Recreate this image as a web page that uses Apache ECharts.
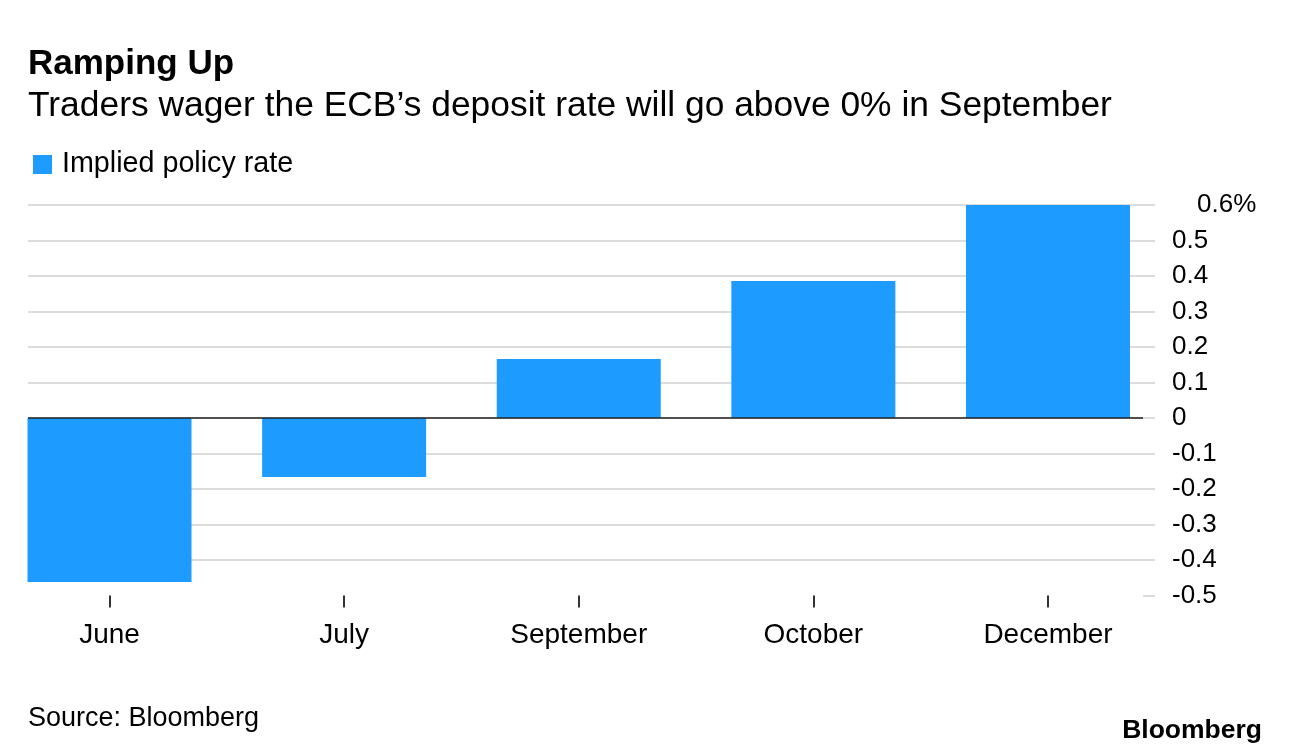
<!DOCTYPE html>
<html>
<head>
<meta charset="utf-8">
<script src="https://cdn.jsdelivr.net/npm/echarts@6/dist/echarts.min.js"></script>
<style>
html,body{margin:0;padding:0;background:#fff;}
#chart{width:1289px;height:756px;}
</style>
</head>
<body>
<div id="chart"></div>
<script>
const categories = ['June', 'July', 'September', 'October', 'December'];
const impliedRate = [-0.462, -0.166, 0.166, 0.386, 0.611];
const yTicks = [-0.5, -0.4, -0.3, -0.2, -0.1, 0, 0.1, 0.2, 0.3, 0.4, 0.5, 0.6];

const FONT = '"Liberation Sans", Arial, Helvetica, sans-serif';
const BLUE = '#1d9bff';
const catIndex = categories.map(function (c, i) { return i; });
const barData = categories.map(function (c, i) { return [i, impliedRate[i]]; });

const chart = echarts.init(document.getElementById('chart'));

const option = {
  animation: false,
  backgroundColor: '#fff',
  textStyle: { fontFamily: FONT },
  title: [
    { text: 'Ramping Up', left: 28, top: 46.5, padding: 0, textStyle: { fontFamily: FONT, fontSize: 35, fontWeight: 'bold', color: '#000' } },
    { text: 'Traders wager the ECB\u2019s deposit rate will go above 0% in September', left: 28, top: 88.5, padding: 0, textStyle: { fontFamily: FONT, fontSize: 35.4, fontWeight: 'normal', color: '#000' } },
    { text: 'Source: Bloomberg', left: 28, top: 705.5, padding: 0, textStyle: { fontFamily: FONT, fontSize: 27, fontWeight: 'normal', color: '#000' } },
    { text: 'Bloomberg', right: 27, top: 717, padding: 0, textStyle: { fontFamily: FONT, fontSize: 26.5, fontWeight: 'bold', color: '#000' } }
  ],
  legend: {
    left: 33, top: 150, padding: 0,
    icon: 'rect', itemWidth: 19, itemHeight: 19, itemGap: 10,
    textStyle: { fontFamily: FONT, fontSize: 28.7, color: '#000', padding: [0, 0, 0, 5] },
    data: ['Implied policy rate']
  },
  grid: { left: 28, right: 1289 - 1143, top: 205, bottom: 160.5 },
  xAxis: {
    type: 'value', min: -0.3474, max: 4.405,
    axisLine: { show: false, onZero: false },
    axisTick: { show: true, customValues: catIndex, length: 12, lineStyle: { color: '#333', width: 2 } },
    axisLabel: {
      show: true, customValues: catIndex, fontFamily: FONT, fontSize: 28, color: '#000', margin: 26,
      formatter: function (v) { return categories[Math.round(v)]; }
    },
    splitLine: { show: false }
  },
  yAxis: {
    type: 'value', position: 'right', min: -0.5, max: 0.6, interval: 0.1,
    axisLine: { show: false, onZero: false },
    axisTick: { show: true, length: 12, lineStyle: { color: '#dcdcdc', width: 2 } },
    splitLine: { show: true, showMinLine: false, lineStyle: { color: '#dcdcdc', width: 2 } },
    axisLabel: {
      fontFamily: FONT, fontSize: 26, color: '#000', margin: 29, align: 'left',
      formatter: function (v) {
        const r = Math.round(v * 10) / 10;
        if (r === 0.6) return '{top|0.6%}';
        return r === 0 ? '0' : String(r);
      },
      rich: { top: { fontFamily: FONT, fontSize: 26, color: '#000', padding: [0, 0, 0, 25] } }
    }
  },
  series: [
    {
      name: 'Implied policy rate', type: 'bar',
      data: barData, barWidth: 164, itemStyle: { color: BLUE },
      markLine: {
        silent: true, symbol: ['none', 'none'], animation: false,
        label: { show: false },
        lineStyle: { color: '#222', width: 1.5, type: 'solid' },
        emphasis: { disabled: true },
        data: [{ yAxis: 0 }]
      }
    }
  ]
};
chart.setOption(option);
</script>
</body>
</html>
